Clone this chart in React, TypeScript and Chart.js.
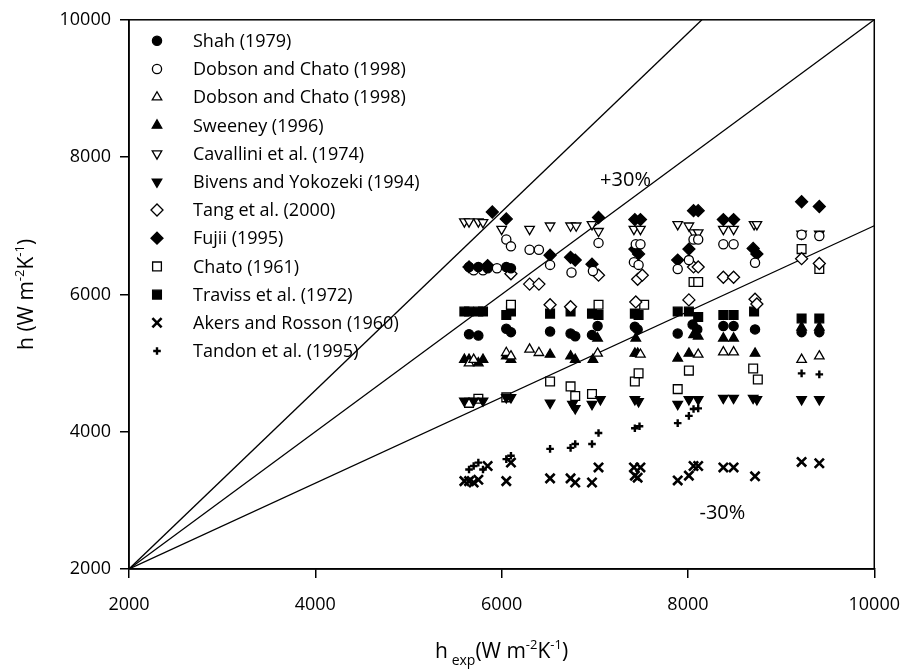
import React, { useEffect, useRef } from 'react';
import { Chart, registerables } from 'chart.js';
import { drawPoint } from 'chart.js/helpers';

Chart.register(...registerables);

const FONT = "'Open Sans', 'DejaVu Sans', sans-serif";

// Axis range (W m^-2 K^-1)
const axisMin = 2000;
const axisMax = 10000;
const tickStep = 2000;

// Agreement lines
const perfectX = [2000, 10000];
const perfectY = [2000, 10000];
const plus30X = [2000, 8150];
const plus30Y = [2000, 10000];
const minus30X = [2000, 10000];
const minus30Y = [2000, 7000];

// Band labels
const bandText = ['+30%', '-30%'];
const bandX = [7330, 8370];
const bandY = [7660, 2810];

// Correlations: experimental h vs predicted h
const shahX = [5650, 5750, 5850, 6050, 6100, 5650, 5750, 6050, 6100, 6520, 6740, 6790, 6970, 7030, 7430, 7460, 7890, 8050, 8100, 8380, 8490, 8720, 9220, 9410];
const shahY = [6400, 6400, 6380, 6400, 6380, 5420, 5400, 5500, 5450, 5460, 5430, 5390, 5410, 5540, 5530, 5490, 5430, 5560, 5490, 5540, 5540, 5490, 5450, 5450];

const dobsonCircX = [5700, 5800, 5950, 6050, 6100, 6300, 6400, 6520, 6750, 6980, 7040, 7420, 7470, 7440, 7490, 7890, 8010, 8060, 8110, 8380, 8490, 8720, 9220, 9410];
const dobsonCircY = [6350, 6350, 6380, 6800, 6700, 6650, 6650, 6430, 6320, 6340, 6750, 6470, 6430, 6730, 6730, 6370, 6500, 6800, 6800, 6730, 6730, 6460, 6870, 6850];

const dobsonTriX = [5650, 5700, 6050, 6100, 6300, 6400, 7030, 7490, 8110, 8380, 8490, 9220, 9410];
const dobsonTriY = [5000, 5050, 5150, 5100, 5200, 5150, 5140, 5125, 5125, 5160, 5160, 5050, 5100];

const sweeneyX = [5600, 5650, 5750, 5800, 6050, 6100, 6520, 6740, 6790, 6980, 7030, 7430, 7460, 7440, 7890, 8010, 8060, 8110, 8380, 8490, 8720, 9220, 9410];
const sweeneyY = [5050, 5050, 5000, 5050, 5100, 5050, 5125, 5100, 5050, 5050, 5360, 5140, 5140, 5360, 5070, 5140, 5410, 5390, 5360, 5360, 5140, 5520, 5520];

const cavalliniX = [5600, 5650, 5750, 5800, 6000, 6300, 6520, 6740, 6800, 6970, 7040, 7420, 7490, 7890, 8010, 8060, 8110, 8380, 8490, 8710, 8740, 9220, 9410];
const cavalliniY = [7060, 7060, 7060, 7050, 6950, 6950, 7000, 7000, 7000, 7020, 6920, 6950, 6950, 7020, 7000, 6900, 6900, 6950, 6950, 7020, 7020, 6880, 6880];

const bivensX = [5600, 5700, 5800, 6050, 6100, 6520, 6760, 6790, 6970, 7060, 7430, 7470, 7890, 8010, 8110, 8380, 8490, 8700, 8740, 9220, 9410];
const bivensY = [4450, 4450, 4450, 4500, 4500, 4420, 4400, 4340, 4400, 4470, 4470, 4440, 4400, 4470, 4470, 4490, 4490, 4490, 4470, 4470, 4470];

const tangX = [5650, 6100, 6300, 6400, 6520, 6740, 7040, 7440, 7460, 7510, 8060, 8110, 8010, 8380, 8490, 8720, 8740, 9220, 9410];
const tangY = [6400, 6300, 6150, 6150, 5850, 5820, 6280, 5890, 6220, 6280, 6400, 6400, 5920, 6250, 6250, 5930, 5860, 6520, 6450];

const fujiiX = [5850, 5900, 6050, 6520, 6740, 6790, 6970, 7040, 7430, 7490, 7430, 7470, 7890, 8010, 8060, 8110, 8380, 8490, 8700, 8740, 9220, 9410];
const fujiiY = [6420, 7200, 7100, 6570, 6540, 6500, 6440, 7120, 7090, 7090, 6660, 6590, 6500, 6660, 7220, 7220, 7090, 7090, 6670, 6590, 7350, 7280];

const chatoX = [5650, 5750, 6050, 6100, 6520, 6740, 6790, 6970, 7040, 7430, 7470, 7530, 7890, 8010, 8060, 8110, 8700, 8750, 9220, 9410];
const chatoY = [4420, 4480, 4500, 5850, 4730, 4660, 4520, 4550, 5850, 4730, 4850, 5850, 4620, 4890, 6180, 6180, 4920, 4760, 6660, 6370];

const travissX = [5600, 5650, 5750, 5800, 6050, 6100, 6520, 6740, 6970, 7040, 7430, 7470, 7890, 8010, 8110, 8380, 8490, 8710, 9220, 9410];
const travissY = [5750, 5750, 5750, 5750, 5700, 5750, 5720, 5750, 5720, 5700, 5720, 5700, 5750, 5750, 5670, 5700, 5700, 5750, 5650, 5650];

const akersX = [5600, 5650, 5700, 5750, 5850, 6050, 6100, 6520, 6740, 6790, 6970, 7040, 7420, 7490, 7430, 7460, 7890, 8010, 8060, 8110, 8380, 8490, 8720, 9220, 9410];
const akersY = [3280, 3280, 3260, 3300, 3500, 3280, 3550, 3320, 3320, 3260, 3260, 3480, 3480, 3480, 3360, 3330, 3290, 3360, 3500, 3500, 3480, 3480, 3350, 3560, 3540];

const tandonX = [5650, 5700, 5750, 5800, 6050, 6100, 6520, 6740, 6790, 6970, 7040, 7430, 7480, 7890, 8010, 8060, 8110, 9220, 9410];
const tandonY = [3450, 3500, 3550, 3450, 3600, 3650, 3750, 3765, 3820, 3820, 3980, 4050, 4080, 4125, 4230, 4330, 4340, 4850, 4835];

const seriesLabels = [
  'Shah (1979)',
  'Dobson and Chato (1998)',
  'Dobson and Chato (1998)',
  'Sweeney (1996)',
  'Cavallini et al. (1974)',
  'Bivens and Yokozeki (1994)',
  'Tang et al. (2000)',
  'Fujii (1995)',
  'Chato (1961)',
  'Traviss et al. (1972)',
  'Akers and Rosson (1960)',
  'Tandon et al. (1995)',
];

const seriesX = [shahX, dobsonCircX, dobsonTriX, sweeneyX, cavalliniX, bivensX, tangX, fujiiX, chatoX, travissX, akersX, tandonX];
const seriesY = [shahY, dobsonCircY, dobsonTriY, sweeneyY, cavalliniY, bivensY, tangY, fujiiY, chatoY, travissY, akersY, tandonY];

type Marker = { style: string; filled: boolean; rotation: number; radius: number; width: number };
const markers: Marker[] = [
  { style: 'circle', filled: true, rotation: 0, radius: 4.6, width: 1.3 },
  { style: 'circle', filled: false, rotation: 0, radius: 4.6, width: 1.3 },
  { style: 'triangle', filled: false, rotation: 0, radius: 5.5, width: 1.3 },
  { style: 'triangle', filled: true, rotation: 0, radius: 5.5, width: 1.3 },
  { style: 'triangle', filled: false, rotation: 180, radius: 5.5, width: 1.3 },
  { style: 'triangle', filled: true, rotation: 180, radius: 5.5, width: 1.3 },
  { style: 'rectRot', filled: false, rotation: 0, radius: 6, width: 1.3 },
  { style: 'rectRot', filled: true, rotation: 0, radius: 6, width: 1.3 },
  { style: 'rect', filled: false, rotation: 0, radius: 6.2, width: 1.3 },
  { style: 'rect', filled: true, rotation: 0, radius: 6.2, width: 1.3 },
  { style: 'crossRot', filled: true, rotation: 0, radius: 6.5, width: 2.6 },
  { style: 'cross', filled: true, rotation: 0, radius: 3.8, width: 2.4 },
];

type Seg = { t: string; size: number; dy: number };

function drawRich(ctx: CanvasRenderingContext2D, segs: Seg[], cx: number, cy: number) {
  let total = 0;
  const widths = segs.map((s) => {
    ctx.font = `${s.size}px ${FONT}`;
    const w = ctx.measureText(s.t).width;
    total += w;
    return w;
  });
  let x = cx - total / 2;
  ctx.textAlign = 'left';
  ctx.textBaseline = 'alphabetic';
  segs.forEach((s, i) => {
    ctx.font = `${s.size}px ${FONT}`;
    ctx.fillText(s.t, x, cy + s.dy);
    x += widths[i];
  });
}

const xTitle: Seg[] = [
  { t: 'h', size: 21, dy: 0 },
  { t: ' ', size: 14, dy: 0 },
  { t: 'exp', size: 14, dy: 7 },
  { t: '(W m', size: 21, dy: 0 },
  { t: '-2', size: 13, dy: -9 },
  { t: 'K', size: 21, dy: 0 },
  { t: '-1', size: 13, dy: -9 },
  { t: ')', size: 21, dy: 0 },
];

const yTitle: Seg[] = [
  { t: 'h (W m', size: 21, dy: 0 },
  { t: '-2', size: 13, dy: -9 },
  { t: 'K', size: 21, dy: 0 },
  { t: '-1', size: 13, dy: -9 },
  { t: ')', size: 21, dy: 0 },
];

const decorPlugin = {
  id: 'decor',
  afterDraw(chart: any) {
    const { ctx, chartArea: a, scales } = chart;
    ctx.save();
    // plot frame
    ctx.strokeStyle = '#000';
    ctx.lineWidth = 1.5;
    ctx.strokeRect(a.left, a.top, a.right - a.left, a.bottom - a.top);

    // band labels
    ctx.fillStyle = '#000';
    ctx.font = `20px ${FONT}`;
    ctx.textAlign = 'center';
    ctx.textBaseline = 'middle';
    bandText.forEach((t, i) => {
      ctx.fillText(t, scales.x.getPixelForValue(bandX[i]), scales.y.getPixelForValue(bandY[i]));
    });

    // legend
    const lx = a.left + 28;
    const tx = a.left + 64;
    seriesLabels.forEach((label, i) => {
      const m = markers[i];
      const y = a.top + 21 + i * 28.2;
      ctx.fillStyle = m.filled ? '#000' : '#fff';
      ctx.strokeStyle = '#000';
      ctx.lineWidth = m.width;
      drawPoint(ctx, { pointStyle: m.style, rotation: m.rotation, radius: m.radius, borderWidth: m.width } as any, lx, y);
      ctx.fillStyle = '#000';
      ctx.font = `18px ${FONT}`;
      ctx.textAlign = 'left';
      ctx.textBaseline = 'middle';
      ctx.fillText(label, tx, y + 1);
    });

    // axis titles
    ctx.fillStyle = '#000';
    drawRich(ctx, xTitle, (a.left + a.right) / 2, 658);
    ctx.translate(33, (a.top + a.bottom) / 2);
    ctx.rotate(-Math.PI / 2);
    drawRich(ctx, yTitle, 0, 0);
    ctx.restore();
  },
};

function refLine(xs: number[], ys: number[]) {
  return {
    type: 'line' as const,
    data: xs.map((x, i) => ({ x, y: ys[i] })),
    borderColor: '#000',
    borderWidth: 1.3,
    pointRadius: 0,
    showLine: true,
    fill: false,
    order: 20,
  };
}

export default function App() {
  const canvasRef = useRef<HTMLCanvasElement | null>(null);

  useEffect(() => {
    document.body.style.margin = '0';
    const canvas = canvasRef.current;
    if (!canvas) return;

    const pointSets = seriesLabels.map((label, i) => {
      const m = markers[i];
      return {
        type: 'scatter' as const,
        label,
        data: seriesX[i].map((x, j) => ({ x, y: seriesY[i][j] })),
        pointStyle: m.style,
        pointRotation: m.rotation,
        pointRadius: m.radius,
        pointBorderWidth: m.width,
        pointBorderColor: '#000',
        pointBackgroundColor: m.filled ? '#000' : '#fff',
        showLine: false,
        order: i,
      };
    });

    const tickFont = { family: FONT, size: 18 };

    const chart = new Chart(canvas, {
      type: 'scatter',
      data: {
        datasets: [
          refLine(perfectX, perfectY),
          refLine(plus30X, plus30Y),
          refLine(minus30X, minus30Y),
          ...pointSets,
        ] as any,
      },
      options: {
        animation: false,
        responsive: false,
        events: [],
        layout: { padding: { top: 17, right: 36, left: 0, bottom: 0 } },
        plugins: { legend: { display: false }, tooltip: { enabled: false } },
        scales: {
          x: {
            type: 'linear',
            min: axisMin,
            max: axisMax,
            afterFit: (s: any) => { s.height = 102; },
            ticks: { stepSize: tickStep, color: '#000', font: tickFont, padding: 16, callback: (v: any) => String(v) },
            grid: { drawOnChartArea: false, drawTicks: true, tickLength: 9, color: '#000', lineWidth: 1.5 },
            border: { display: true, color: '#000', width: 1.5 },
          },
          y: {
            type: 'linear',
            min: axisMin,
            max: axisMax,
            afterFit: (s: any) => { s.width = 129; },
            ticks: { stepSize: tickStep, color: '#000', font: tickFont, padding: 9, callback: (v: any) => String(v) },
            grid: { drawOnChartArea: false, drawTicks: true, tickLength: 9, color: '#000', lineWidth: 1.5 },
            border: { display: true, color: '#000', width: 1.5 },
          },
        },
      } as any,
      plugins: [decorPlugin],
    });

    return () => chart.destroy();
  }, []);

  return (
    <div style={{ width: 916, height: 671, background: '#fff' }}>
      <canvas ref={canvasRef} width={916} height={671} style={{ display: 'block', width: 916, height: 671 }} />
    </div>
  );
}
